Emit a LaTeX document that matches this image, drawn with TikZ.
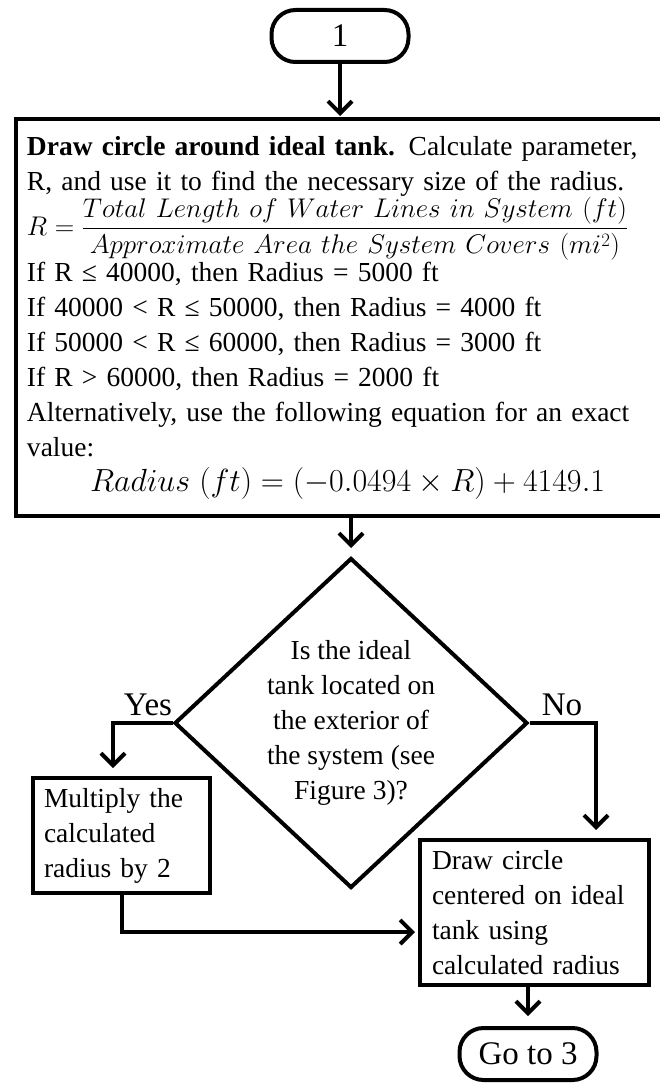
\RequirePackage{fix-cm}
\documentclass[tikz,border=0pt]{standalone}
\usepackage{amsmath}
\usepackage{fontspec}
\setmainfont{Liberation Serif}
\usetikzlibrary{shapes.geometric,arrows.meta}
\begin{document}
\begin{tikzpicture}[
x=1pt,y=-1pt,
line width=4pt,
every node/.style={draw,inner sep=0pt,font=\fontsize{27.5}{35}\selectfont},
term/.style={rounded corners=24pt,minimum width=137pt,minimum height=52pt,font=\fontsize{33}{40}\selectfont},
box/.style={align=left,inner xsep=11pt},
ask/.style={diamond,aspect=1.07,minimum width=353pt,minimum height=330pt},
lbl/.style={draw=none},
big/.style={draw=none,font=\fontsize{33}{40}\selectfont},
arr/.style={-{Straight Barb[length=12pt,width=24pt]}}
]
\useasboundingbox (0,0) rectangle (659,1083);
\node[term] (start) at (340,36) {1};
\node[box,anchor=north west,text width=660pt,minimum height=397pt] (calc) at (14,117) {%
\textbf{Draw circle around ideal tank.} Calculate parameter,\\
R, and use it to find the necessary size of the radius.\\
{\fontsize{27}{35}\selectfont$R=\dfrac{Total\ Length\ of\ Water\ Lines\ in\ System\ (ft)}{Approximate\ Area\ the\ System\ Covers\ (mi^2)}$}\\
If R ≤ 40000, then Radius = 5000 ft\\
If 40000 < R ≤ 50000, then Radius = 4000 ft\\
If 50000 < R ≤ 60000, then Radius = 3000 ft\\
If R > 60000, then Radius = 2000 ft\\
Alternatively, use the following equation for an exact\\
value:\\
{\fontsize{32}{35}\selectfont\hspace*{63pt}$Radius\ (ft)=(-0.0494\times R)+4149.1$}};
\node[ask] (ask) at (351,723) {};
\node[lbl,align=center] (q) at (ask) {Is the ideal\\tank located on\\the exterior of\\the system (see\\Figure 3)?};
\node[big] (yes) at (148,705) {Yes};
\node[big] (no) at (562,705) {No};
\node[box,text width=155pt,minimum width=177pt,minimum height=115pt] (mult) at (121.5,835.5) {Multiply the\\calculated\\radius by 2};
\node[box,text width=205pt,minimum width=229pt,minimum height=145pt] (circ) at (534.5,912.5) {Draw circle\\centered on ideal\\tank using\\calculated radius};
\node[term] (next) at (528,1054) {Go to 3};
\draw[arr,shorten >=1pt] (start) -- (start |- calc.north);
\draw[arr,shorten >=8pt] (calc.south -| ask.north) -- (ask.north);
\draw[arr,shorten >=8pt] (ask.west) -| ([xshift=-8.5pt]mult.north);
\draw[arr,shorten >=8pt] (ask.east) -| ([xshift=61.5pt]circ.north);
\draw[arr,shorten >=3pt] (mult.south) |- ([yshift=-19.5pt]circ.west);
\draw[arr,shorten >=10pt] (circ.south -| next.north) -- (next.north);
\end{tikzpicture}
\end{document}
